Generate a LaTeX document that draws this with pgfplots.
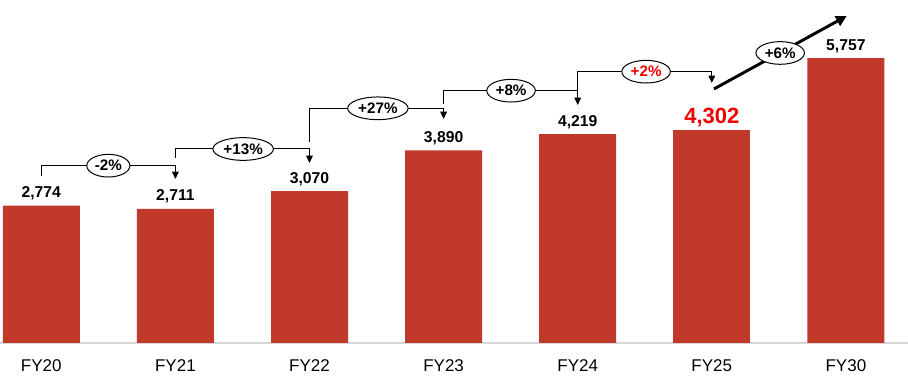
\documentclass[border=0pt]{standalone}
\usepackage{pgfplots}
\pgfplotsset{compat=1.18}
\usepackage{fontspec}
\setmainfont{Liberation Sans}
\usetikzlibrary{arrows.meta,shapes.geometric}
\definecolor{barred}{RGB}{192,57,43}
\definecolor{txtred}{RGB}{240,0,0}
\tikzset{
  conn/.style={line width=0.75pt, -{Triangle[width=5pt,length=5.5pt]}},
  pct/.style={ellipse, draw, fill=white, line width=0.75pt, inner xsep=1.3pt, inner ysep=0pt,
     minimum height=17pt, font=\fontsize{11.4pt}{12pt}\selectfont\bfseries},
}
\begin{document}
\begin{tikzpicture}
\begin{axis}[
  at={(0,0)}, anchor=south west,
  width=681pt, height=257.25pt, scale only axis,
  xmin=-0.308, xmax=6.463, ymin=0, ymax=6929,
  axis x line*=bottom, axis y line=none, ytick=\empty,
  x axis line style={draw=black!16, line width=1.1pt, -},
  xtick={0,1,2,3,4,5,6},
  xticklabels={FY20,FY21,FY22,FY23,FY24,FY25,FY30},
  major tick length=0pt,
  xticklabel style={anchor=base, yshift=-21.5pt, inner sep=0pt, font=\fontsize{12.75pt}{14pt}\selectfont},
  ybar, bar width=57.75pt,
  /pgf/number format/1000 sep={,},
  /pgf/number format/assume math mode=true,
  clip=false,
]
\addplot[fill=barred, draw=none, bar shift=0pt, nodes near coords,
  every node near coord/.append style={anchor=base, inner sep=0pt, yshift=6pt,
    font=\fontsize{11.8pt}{13pt}\selectfont\bfseries, text=black}]
  coordinates {(0,2774) (1,2711) (2,3070) (3,3890) (4,4219) (6,5757)};
\addplot[fill=barred, draw=none, bar shift=0pt, nodes near coords,
  every node near coord/.append style={anchor=base, inner sep=0pt, yshift=5pt,
    font=\fontsize{16.5pt}{18pt}\selectfont\bfseries, text=txtred}]
  coordinates {(5,4302)};

% growth connectors
\draw[conn] (axis cs:0,3374) |- (axis cs:1,3582) -- (axis cs:1,3313);
\node[pct] at (axis cs:0.50,3582) {-2\%};
\draw[conn] (axis cs:1,3737) |- (axis cs:2,3919) -- (axis cs:2,3636);
\node[pct] at (axis cs:1.505,3919) {+13\%};
\draw[conn] (axis cs:2,4061) |- (axis cs:3,4741) -- (axis cs:3,4525);
\node[pct] at (axis cs:2.51,4741) {+27\%};
\draw[conn] (axis cs:3,4828) |- (axis cs:4,5097) -- (axis cs:4,4808);
\node[pct] at (axis cs:3.503,5097) {+8\%};
\draw[conn] (axis cs:4,5097) |- (axis cs:5,5481) -- (axis cs:5,5253);
\node[pct, text=txtred] at (axis cs:4.51,5481) {+2\%};
\draw[line width=2.2pt, -{Triangle[width=8pt,length=8pt]}] (axis cs:5.016,5131) -- (axis cs:6.006,6606);
\node[pct] at (axis cs:5.51,5859) {+6\%};
\end{axis}
\pgfresetboundingbox
\path (0,-33.75pt) rectangle (681pt,257.25pt);
\end{tikzpicture}
\end{document}
